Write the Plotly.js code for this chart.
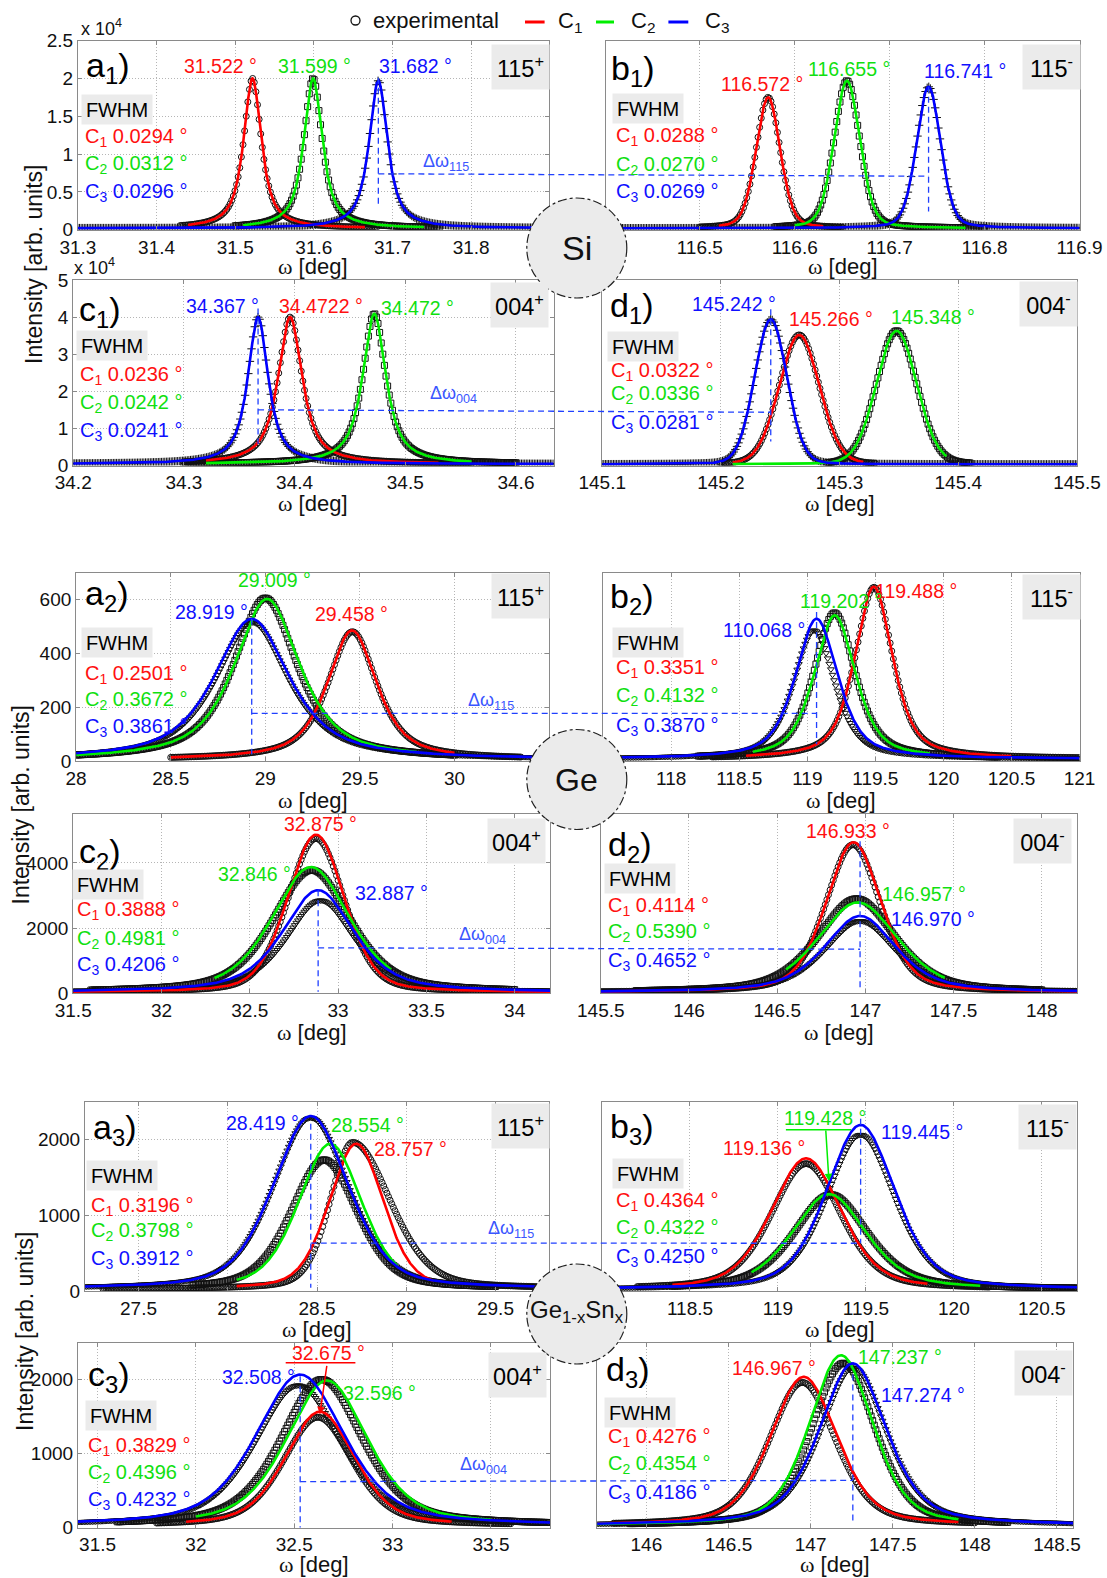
<!DOCTYPE html>
<html><head><meta charset="utf-8">
<script src="https://cdn.plot.ly/plotly-3.0.1.min.js"></script>
<style>html,body{margin:0;padding:0;background:#fff}</style>
</head><body><div id="chart" style="width:1107px;height:1578px"></div>
<script>
const W = 1107, H = 1578;
const FONT = 'Liberation Sans, Arial, sans-serif';

// ---------------- DATA ----------------
const panelLetters = ['a','b','c','d','a','b','c','d','a','b','c','d'];
const panelNumbers = ['1','1','1','1','2','2','2','2','3','3','3','3'];
const reflections = ['115<sup>+</sup>','115<sup>-</sup>','004<sup>+</sup>','004<sup>-</sup>',
                     '115<sup>+</sup>','115<sup>-</sup>','004<sup>+</sup>','004<sup>-</sup>',
                     '115<sup>+</sup>','115<sup>-</sup>','004<sup>+</sup>','004<sup>-</sup>'];
const seriesNames = ['C<sub>1</sub>','C<sub>2</sub>','C<sub>3</sub>'];
const xRanges = [[31.3,31.899],[116.401,116.9],[34.2,34.634],[145.1,145.5],
                 [28,30.499],[117.501,121],[31.5,34.2],[145.5,148.2],
                 [27.2,29.8],[118.001,120.7],[31.4,33.8],[145.7,148.6]];
const yRanges = [[0,2.5],[0,2.5],[0,5],[0,5],[0,700],[0,700],[0,5500],[0,5500],
                 [0,2500],[0,2500],[0,2500],[0,2500]];
const xDtick = [0.1,0.1,0.1,0.1,0.5,0.5,0.5,0.5,0.5,0.5,0.5,0.5];
const yDtick = [0.5,0.5,1,1,200,200,2000,2000,1000,1000,1000,1000];

// peak labels (as printed) and FWHM values (as printed), order C1,C2,C3
const peakLabels = [
 ['31.522 °','31.599 °','31.682 °'],
 ['116.572 °','116.655 °','116.741 °'],
 ['34.4722 °','34.472 °','34.367 °'],
 ['145.266 °','145.348 °','145.242 °'],
 ['29.458 °','29.009 °','28.919 °'],
 ['119.488 °','119.202 °','110.068 °'],
 ['32.875 °','32.846 °','32.887 °'],
 ['146.933 °','146.957 °','146.970 °'],
 ['28.757 °','28.554 °','28.419 °'],
 ['119.136 °','119.428 °','119.445 °'],
 ['32.675 °','32.596 °','32.508 °'],
 ['146.967 °','147.237 °','147.274 °']];
const fwhmText = [
 ['0.0294','0.0312','0.0296'],['0.0288','0.0270','0.0269'],
 ['0.0236','0.0242','0.0241'],['0.0322','0.0336','0.0281'],
 ['0.2501','0.3672','0.3861'],['0.3351','0.4132','0.3870'],
 ['0.3888','0.4981','0.4206'],['0.4114','0.5390','0.4652'],
 ['0.3196','0.3798','0.3912'],['0.4364','0.4322','0.4250'],
 ['0.3829','0.4396','0.4232'],['0.4276','0.4354','0.4186']];

// fitted peak parameters (centre, height above background, visual FWHM, Lorentz fraction)
const fitCenter = [
 [31.522,31.599,31.682],[116.572,116.655,116.741],[34.396,34.472,34.367],[145.266,145.348,145.242],
 [29.458,29.009,28.928],[119.488,119.202,119.068],[32.875,32.846,32.887],[146.933,146.957,146.970],
 [28.72,28.574,28.465],[119.16,119.29,119.47],[32.63,32.666,32.53],[146.958,147.185,147.257]];
const fitHeight = [
 [1.98,1.98,1.95],[1.73,1.95,1.87],[3.96,4.05,3.96],[3.49,3.6,3.91],
 [480,597,523],[639,533,520],[4840,3850,3140],[4610,2767,2350],
 [1918,1918,2284],[1730,1259,2171],[1540,1962,2042],[2011,2302,2193]];
const fitWidth = [
 [0.027,0.028,0.028],[0.030,0.032,0.030],[0.026,0.025,0.022],[0.040,0.040,0.032],
 [0.31,0.41,0.47],[0.33,0.36,0.37],[0.38,0.52,0.48],[0.37,0.54,0.48],
 [0.36,0.42,0.50],[0.47,0.50,0.46],[0.417,0.49,0.535],[0.48,0.457,0.48]];
const fitEta = [
 [0.85,0.85,0.85],[0.25,0.25,0.25],[0.85,0.85,0.85],[0.1,0.1,0.1],
 [0.7,0.75,0.75],[0.6,0.6,0.6],[0.3,0.5,0.6],[0.4,0.5,0.6],
 [0.3,0.4,0.4],[0.4,0.5,0.4],[0.4,0.5,0.5],[0.4,0.4,0.5]];
const background = [0.02,0.02,0.04,0.03,5,8,25,25,25,20,25,25];
const fitSpan = [
 [[31.44,31.665],[31.51,31.74],[31.3,31.9]],
 [[116.52,116.63],[116.60,116.78],[116.4,116.9]],
 [[34.32,34.53],[34.32,34.56],[34.2,34.634]],
 [[145.21,145.32],[145.21,145.39],[145.1,145.5]],
 [[28.5,30.0],[28.0,29.8],[28.0,30.5]],
 [[118.55,120.5],[118.6,119.9],[117.5,121]],
 [[31.5,34.2],[32.3,33.3],[31.5,34.2]],
 [[145.5,148.2],[146.55,147.45],[145.5,148.2]],
 [[28.05,29.15],[28.05,28.95],[27.2,29.8]],
 [[118.4,119.85],[118.85,120.15],[118.0,120.7]],
 [[31.95,33.3],[32.0,33.5],[31.4,33.8]],
 [[145.7,147.9],[145.7,147.9],[145.7,148.6]]];

// experimental profiles (centre, height, left/right FWHM, span)
const expCenter = [
 [31.522,31.599,31.682],[116.572,116.655,116.741],[34.396,34.472,34.367],[145.266,145.348,145.242],
 [29.46,29.0,28.93],[119.49,119.2,119.05],[32.875,32.85,32.9],[146.93,146.95,146.97],
 [28.70,28.54,28.465],[119.16,119.30,119.47],[32.62,32.64,32.52],[146.95,147.2,147.26]];
const expHeight = [
 [1.98,1.98,1.95],[1.73,1.95,1.87],[3.96,4.05,3.96],[3.49,3.6,3.91],
 [475,600,510],[637,542,477],[4725,3755,2825],[4535,2875,2195],
 [1935,1705,2260],[1660,1250,2040],[1465,1975,1895],[1935,2195,2135]];
const expWidth = [
 [[0.027,0.027],[0.028,0.028],[0.028,0.028]],
 [[0.030,0.030],[0.032,0.032],[0.030,0.030]],
 [[0.026,0.026],[0.025,0.025],[0.022,0.022]],
 [[0.040,0.040],[0.040,0.040],[0.032,0.032]],
 [[0.31,0.31],[0.40,0.40],[0.46,0.46]],
 [[0.33,0.33],[0.36,0.36],[0.36,0.36]],
 [[0.38,0.38],[0.52,0.52],[0.46,0.46]],
 [[0.37,0.37],[0.52,0.52],[0.48,0.48]],
 [[0.30,0.50],[0.44,0.44],[0.50,0.50]],
 [[0.47,0.47],[0.50,0.50],[0.46,0.46]],
 [[0.417,0.417],[0.49,0.49],[0.52,0.52]],
 [[0.48,0.48],[0.46,0.46],[0.48,0.48]]];
const expSpan = [
 [[31.43,31.68],[31.50,31.76],[31.3,31.9]],
 [[116.50,116.65],[116.58,116.80],[116.4,116.9]],
 [[34.30,34.56],[34.30,34.60],[34.2,34.634]],
 [[145.20,145.33],[145.29,145.41],[145.1,145.5]],
 [[28.5,30.35],[28.0,30.0],[28.0,30.5]],
 [[118.3,121],[118.2,120.4],[117.5,121]],
 [[31.5,34.2],[31.6,34.0],[31.5,34.2]],
 [[145.5,148.2],[145.7,148.0],[145.5,148.2]],
 [[27.3,29.8],[27.8,29.5],[27.2,29.8]],
 [[118.2,120.2],[118.4,120.7],[118.0,120.7]],
 [[31.8,33.6],[31.6,33.8],[31.4,33.8]],
 [[145.8,148.0],[145.9,148.2],[145.7,148.6]]];

// delta-omega guide lines (pairs of panels, levels in each panel's units)
const deltaPairs = [[0,1],[2,3],[4,5],[6,7],[8,9],[10,11]];
const deltaText = ['Δω<sub>115</sub>','Δω<sub>004</sub>','Δω<sub>115</sub>','Δω<sub>004</sub>','Δω<sub>115</sub>','Δω<sub>004</sub>'];
const deltaLevelLeft = [0.74,1.50,177,1398,631,620];
const deltaLevelRight = [0.708,1.435,177,1354,630,636];
const deltaVertLeft = [[2.01,0.30],[4.23,0.58],[528,25],[3163,51],[2207,44],[2045,0]];
const deltaVertRight = [[1.89,0.243],[4.21,0.65],[553,62],[4667,83],[2271,630],[2068,68]];
const elementNames = ['Si','Ge','Ge<sub>1-x</sub>Sn<sub>x</sub>'];
// labels that point at their peak with an arrow: [panel, curve, tip height]
const arrowLabels = [[9,1,1447],[10,0,1530]];

// ---------------- LAYOUT CONSTANTS (pixels) ----------------
const boxes = [
 [77.9,549,40.6,229.8],[605.8,1079.5,40.6,229.8],
 [73.2,553.6,280,465.5],[602.2,1077,280,465.5],
 [76.1,549,572.5,761],[603.3,1079.5,572.5,761],
 [73.2,550,814,993.4],[600.8,1077,814,993.4],
 [85,549,1101.5,1291],[602.2,1077,1101.5,1291],
 [77.9,550,1342.5,1527.5],[597.1,1073.4,1342.5,1527.5]];
const letterPos = [[84,68],[609,70],[76.8,311],[608,307],[82.9,595],[608,598],
                   [76.8,853],[605.8,846],[91,1129.5],[608,1128],[85.7,1376],[604.4,1371]];
const peakPos = [
 [[220,65.8],[314.6,65.8],[415.7,65.8]],
 [[761.5,83.5],[849,69.2],[964.8,70.9]],
 [[320.5,305.8],[417,307.5],[222.6,305.8]],
 [[831,318.9],[933.3,317.2],[733.5,303.7]],
 [[351,614.2],[274.6,580],[211.6,611.7]],
 [[916,590.6],[841,600.7],[764,630.3]],
 [[320.5,824.2],[254.6,874.2],[391,892.5]],
 [[848.3,831.2],[924,893.7],[933,919]],
 [[410,1149.2],[367,1125],[262.5,1123.3]],
 [[764,1147.6],[825,1118],[922.4,1132.4]],
 [[328.6,1353.3],[379,1392.5],[258.6,1376.7]],
 [[774,1368.1],[900,1357.1],[923,1395.1]]];
const reflPos = [[520,66.7],[1051,67],[519.6,305],[1048,303.7],[520,595.8],[1051,597],
                 [516,840.8],[1042.6,840.5],[520,1126.2],[1047,1126.8],[517.8,1375],[1043.5,1373]];
const fwhmPos = [[116.5,110],[647.5,108.5],[111.6,345],[642.7,346.7],[116.6,642.5],[647.5,642.2],
                 [108,884.2],[639.8,878.5],[122,1175.8],[648,1173.7],[120.5,1415],[640,1412.8]];
const rowX = [83,614,77.9,608.7,83,614,75,605.8,89.3,614,85.7,605.8];
const rowY = [[135.8,162.5,190.8],[135,163.7,191.5],[374.2,401.7,430],[369.6,393.2,421.9],
              [672.5,699.2,725.8],[666.6,695.2,724.8],[909.2,937.5,964.2],[904.6,930.8,959.5],
              [1205,1230,1258.3],[1199.9,1226.9,1256.4],[1445,1471.7,1499.2],[1436.4,1463.4,1492.1]];
const xTitleY = [266,503,800,1032,1329,1564];
const deltaTextPos = [[445.5,162.5],[453.6,394],[490.7,701.7],[482,935.8],[511,1229],[484,1465.8]];
const circlePos = [[576.8,248],[576.8,779.5],[576.8,1314]];
const circleFont = [34,32,24];
const yTitlePos = [[34,265],[20.5,805],[25,1332]];
const underlines = [[785.9,851,1129.7],[285.7,355.4,1362.7]];

const LINE_COLORS = ['#ff0000','#00ee00','#0000ff'];
const TEXT_COLORS = ['#ff1010','#10e010','#1010ff'];
const DELTA_COLOR = '#2040ff';

// ---------------- helpers ----------------
function linspace(a,b,n){const o=[];for(let i=0;i<n;i++)o.push(a+(b-a)*i/(n-1));return o;}
function pv(x,c,h,wl,wr,eta,base){const w=x<c?wl:wr;const t=(x-c)/w;
  return base+h*(eta/(1+4*t*t)+(1-eta)*Math.exp(-4*Math.LN2*t*t));}
function pxX(p,x){const b=boxes[p],r=xRanges[p];return b[0]+(x-r[0])/(r[1]-r[0])*(b[1]-b[0]);}
function pxY(p,y){const b=boxes[p],r=yRanges[p];return b[3]-(y-r[0])/(r[1]-r[0])*(b[3]-b[2]);}
const PX = v=>v/W, PY = v=>1-v/H;
function ann(text,px,py,size,color,extra){
  return Object.assign({text:text,x:PX(px),y:PY(py),xref:'paper',yref:'paper',showarrow:false,
    font:{family:FONT,size:size,color:color},xanchor:'center',yanchor:'middle'},extra||{});
}
function pline(x0,y0,x1,y1,color,width,dash){
  return {type:'line',xref:'paper',yref:'paper',x0:PX(x0),y0:PY(y0),x1:PX(x1),y1:PY(y1),
    layer:'above',line:{color:color,width:width,dash:dash||'solid'}};
}

const traces = [];
const layout = {width:W,height:H,margin:{l:0,r:0,t:0,b:0},paper_bgcolor:'#fff',plot_bgcolor:'#fff',
  showlegend:false,hovermode:false,font:{family:FONT,color:'#000'},annotations:[],shapes:[]};

for(let p=0;p<12;p++){
  const n=p+1, sfx=n===1?'':String(n), xs='x'+sfx, ys='y'+sfx, left=p%2===0, b=boxes[p];
  layout['xaxis'+sfx]={domain:[b[0]/W,b[1]/W],range:xRanges[p],dtick:xDtick[p],tick0:0,anchor:ys,
    showline:true,mirror:'ticks',linecolor:'#8a8a8a',linewidth:1,ticks:'inside',ticklen:4,tickcolor:'#8a8a8a',
    showgrid:true,gridcolor:'#b5b5b5',griddash:'1px,2px',gridwidth:1,zeroline:false,
    tickfont:{family:FONT,size:19,color:'#111'},exponentformat:'none',fixedrange:true};
  layout['yaxis'+sfx]={domain:[1-b[3]/H,1-b[2]/H],range:yRanges[p],dtick:yDtick[p],tick0:0,anchor:xs,
    showline:true,mirror:left?'ticks':true,linecolor:'#8a8a8a',linewidth:1,
    ticks:left?'inside':'',ticklen:4,tickcolor:'#8a8a8a',showticklabels:left,
    showgrid:left,gridcolor:'#b5b5b5',griddash:'1px,2px',gridwidth:1,zeroline:false,
    tickfont:{family:FONT,size:19,color:'#111'},exponentformat:'none',fixedrange:true};
  const pxPerDeg=(b[1]-b[0])/(xRanges[p][1]-xRanges[p][0]);
  const symbols=['circle-open','square-open',p<4?'cross-thin-open':'triangle-down-open'];
  for(let k=0;k<3;k++){
    const sp=expSpan[p][k];
    const nPts=Math.max(20,Math.round((sp[1]-sp[0])*pxPerDeg/1.6));
    const xv=linspace(sp[0],sp[1],nPts);
    const yv=xv.map(x=>pv(x,expCenter[p][k],expHeight[p][k],expWidth[p][k][0],expWidth[p][k][1],fitEta[p][k],background[p]));
    traces.push({type:'scatter',mode:'markers',x:xv,y:yv,xaxis:xs,yaxis:ys,
      marker:{symbol:symbols[k],size:6,color:'#111',line:{color:'#111',width:1}}});
  }
  for(let k=0;k<3;k++){
    const sp=fitSpan[p][k];
    const xv=linspace(sp[0],sp[1],500);
    const yv=xv.map(x=>pv(x,fitCenter[p][k],fitHeight[p][k],fitWidth[p][k],fitWidth[p][k],fitEta[p][k],background[p]));
    traces.push({type:'scatter',mode:'lines',x:xv,y:yv,xaxis:xs,yaxis:ys,
      line:{color:LINE_COLORS[k],width:2.6}});
  }
  layout.annotations.push(ann(panelLetters[p]+'<sub>'+panelNumbers[p]+'</sub>)',letterPos[p][0],letterPos[p][1],34,'#000',{xanchor:'left'}));
  layout.annotations.push(ann(reflections[p],reflPos[p][0],reflPos[p][1],23.5,'#000',{bgcolor:'#ebebeb',width:57,height:44,borderpad:0}));
  layout.annotations.push(ann('FWHM',fwhmPos[p][0],fwhmPos[p][1],20,'#000',{bgcolor:'#ebebeb',width:70,height:29,borderpad:0}));
  for(let k=0;k<3;k++){
    layout.annotations.push(ann(seriesNames[k]+' '+fwhmText[p][k]+' °',rowX[p],rowY[p][k]+1.5,20,TEXT_COLORS[k],{xanchor:'left'}));
    const arrowed=arrowLabels.find(a=>a[0]===p&&a[1]===k);
    if(arrowed){
      const tx=pxX(p,fitCenter[p][k]), ty=pxY(p,arrowed[2]);
      layout.annotations.push({text:peakLabels[p][k],x:fitCenter[p][k],y:arrowed[2],xref:xs,yref:ys,
        showarrow:true,ax:peakPos[p][k][0]-tx,ay:peakPos[p][k][1]-ty,arrowcolor:LINE_COLORS[k],
        arrowwidth:1.5,arrowhead:2,arrowsize:1,standoff:0,startstandoff:0,
        font:{family:FONT,size:19.5,color:TEXT_COLORS[k]},xanchor:'center',yanchor:'middle'});
    } else {
      layout.annotations.push(ann(peakLabels[p][k],peakPos[p][k][0],peakPos[p][k][1],19.5,TEXT_COLORS[k]));
    }
  }
  layout.annotations.push(ann('<span style="font-family:Liberation Serif">ω</span> [deg]',(b[0]+b[1])/2,xTitleY[Math.floor(p/2)],22,'#111'));
}

// underlines of arrowed labels
layout.shapes.push(pline(underlines[0][0],underlines[0][2],underlines[0][1],underlines[0][2],LINE_COLORS[1],1.5));
layout.shapes.push(pline(underlines[1][0],underlines[1][2],underlines[1][1],underlines[1][2],LINE_COLORS[0],1.5));

// delta-omega lines
deltaPairs.forEach((pr,i)=>{
  const L=pr[0],R=pr[1];
  const xl=pxX(L,fitCenter[L][2]), xr=pxX(R,fitCenter[R][2]);
  const dash='6px,4px';
  layout.shapes.push(pline(xl,pxY(L,deltaVertLeft[i][0]),xl,pxY(L,deltaVertLeft[i][1]),DELTA_COLOR,1.3,dash));
  layout.shapes.push(pline(xr,pxY(R,deltaVertRight[i][0]),xr,pxY(R,deltaVertRight[i][1]),DELTA_COLOR,1.3,dash));
  layout.shapes.push(pline(xl,pxY(L,deltaLevelLeft[i]),xr,pxY(R,deltaLevelRight[i]),DELTA_COLOR,1.3,dash));
  layout.annotations.push(ann(deltaText[i],deltaTextPos[i][0],deltaTextPos[i][1],18,'#3a55ff'));
});

// element circles
circlePos.forEach((c,i)=>{
  const r=50;
  layout.shapes.push({type:'circle',xref:'paper',yref:'paper',x0:PX(c[0]-r),x1:PX(c[0]+r),y0:PY(c[1]+r),y1:PY(c[1]-r),
    layer:'above',fillcolor:'#ebebeb',line:{color:'#222',width:1.2,dash:'dashdot'}});
  layout.annotations.push(ann(elementNames[i],c[0],c[1]-(i===2?3:0),circleFont[i],'#111'));
});

// y titles
yTitlePos.forEach(q=>layout.annotations.push(ann('Intensity [arb. units]',q[0],q[1],23,'#111',{textangle:-90})));

// x10^4 multipliers
layout.annotations.push(ann('x 10<sup>4</sup>',79,27.5,18,'#111',{xanchor:'left'}));
layout.annotations.push(ann('x 10<sup>4</sup>',72,266.5,18,'#111',{xanchor:'left'}));

// legend
layout.shapes.push({type:'circle',xref:'paper',yref:'paper',x0:PX(351),x1:PX(360),y0:PY(25),y1:PY(16),
  layer:'above',line:{color:'#111',width:1.3},fillcolor:'rgba(0,0,0,0)'});
layout.annotations.push(ann('experimental',371.4,21,22,'#111',{xanchor:'left'}));
const legLines=[[525,544.6],[596,614],[668.4,688.3]], legText=[556.3,628.6,702.7];
for(let k=0;k<3;k++){
  layout.shapes.push(pline(legLines[k][0],22,legLines[k][1],22,LINE_COLORS[k],3));
  layout.annotations.push(ann(seriesNames[k],legText[k],22,22,'#111',{xanchor:'left'}));
}

Plotly.newPlot('chart',traces,layout,{staticPlot:true,displayModeBar:false});
</script></body></html>
